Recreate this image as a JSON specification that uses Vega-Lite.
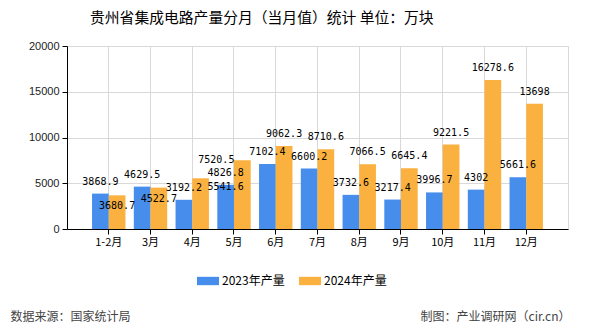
{
  "$schema": "https://vega.github.io/schema/vega-lite/v6.json",
  "width": 501,
  "height": 183,
  "autosize": {"type": "none"},
  "padding": {"left": 67, "top": 46, "right": 22, "bottom": 101},
  "background": "white",
  "title": {
    "text": "贵州省集成电路产量分月（当月值）统计 单位：万块",
    "anchor": "start",
    "frame": "group",
    "dx": 23,
    "offset": 14,
    "font": "Noto Sans CJK SC",
    "fontSize": 14.8,
    "fontWeight": "normal",
    "color": "#000000"
  },
  "config": {
    "view": {"stroke": "#d9d9d9"}
  },
  "data": {
    "values": [
      {"month": "1-2月", "series": "2023年产量", "value": 3868.9},
      {"month": "1-2月", "series": "2024年产量", "value": 3680.7},
      {"month": "3月", "series": "2023年产量", "value": 4629.5},
      {"month": "3月", "series": "2024年产量", "value": 4522.7},
      {"month": "4月", "series": "2023年产量", "value": 3192.2},
      {"month": "4月", "series": "2024年产量", "value": 5541.6},
      {"month": "5月", "series": "2023年产量", "value": 4826.8},
      {"month": "5月", "series": "2024年产量", "value": 7520.5},
      {"month": "6月", "series": "2023年产量", "value": 7102.4},
      {"month": "6月", "series": "2024年产量", "value": 9062.3},
      {"month": "7月", "series": "2023年产量", "value": 6600.2},
      {"month": "7月", "series": "2024年产量", "value": 8710.6},
      {"month": "8月", "series": "2023年产量", "value": 3732.6},
      {"month": "8月", "series": "2024年产量", "value": 7066.5},
      {"month": "9月", "series": "2023年产量", "value": 3217.4},
      {"month": "9月", "series": "2024年产量", "value": 6645.4},
      {"month": "10月", "series": "2023年产量", "value": 3996.7},
      {"month": "10月", "series": "2024年产量", "value": 9221.5},
      {"month": "11月", "series": "2023年产量", "value": 4302},
      {"month": "11月", "series": "2024年产量", "value": 16278.6},
      {"month": "12月", "series": "2023年产量", "value": 5661.6},
      {"month": "12月", "series": "2024年产量", "value": 13698}
    ]
  },
  "encoding": {
    "x": {
      "field": "month",
      "type": "nominal",
      "sort": null,
      "scale": {"paddingInner": 0.2, "paddingOuter": 0.6},
      "axis": {
        "title": "数据来源：国家统计局",
        "titleX": -57,
        "titleY": 87,
        "titleAlign": "left",
        "titleBaseline": "middle",
        "titleFont": "Noto Sans CJK SC",
        "titleFontSize": 12,
        "titleFontWeight": "normal",
        "titleColor": "#444444",
        "labelAngle": 0,
        "labelFont": "Noto Sans CJK SC",
        "labelFontSize": 11,
        "labelColor": "#000000",
        "labelPadding": 2,
        "tickSize": 5,
        "tickColor": "#000000",
        "domainColor": "#000000",
        "grid": true,
        "gridColor": "#d9d9d9",
        "bandPosition": 0.5
      }
    },
    "xOffset": {
      "field": "series",
      "type": "nominal",
      "scale": {"paddingInner": 0, "paddingOuter": 0}
    },
    "y": {
      "field": "value",
      "type": "quantitative",
      "scale": {"domain": [0, 20000]},
      "axis": {
        "values": [0, 5000, 10000, 15000, 20000],
        "format": "d",
        "title": "制图：产业调研网（cir.cn）",
        "titleAngle": 0,
        "titleX": 503,
        "titleY": 270,
        "titleAlign": "right",
        "titleBaseline": "middle",
        "titleFont": "Noto Sans CJK SC",
        "titleFontSize": 12,
        "titleFontWeight": "normal",
        "titleColor": "#444444",
        "labelFont": "Liberation Sans",
        "labelFontSize": 11,
        "labelColor": "#222222",
        "labelPadding": 3,
        "tickSize": 5,
        "tickColor": "#000000",
        "domainColor": "#000000",
        "gridColor": "#d9d9d9"
      }
    },
    "color": {
      "field": "series",
      "type": "nominal",
      "scale": {
        "domain": ["2023年产量", "2024年产量"],
        "range": ["#468dec", "#fbb13f"]
      },
      "legend": {
        "title": null,
        "orient": "none",
        "legendX": 130,
        "legendY": 224,
        "direction": "horizontal",
        "symbolType": "M-1,-0.38L1,-0.38L1,0.38L-1,0.38Z",
        "symbolSize": 484,
        "symbolStrokeWidth": 0,
        "symbolOpacity": 1,
        "labelFont": "Noto Sans CJK SC",
        "labelFontSize": 12,
        "labelColor": "#000000",
        "labelOffset": 3,
        "columnPadding": 14
      }
    }
  },
  "layer": [
    {"mark": {"type": "bar"}},
    {
      "transform": [
        {"filter": "!((datum.series === '2024年产量') && indexof(['1-2月','3月','4月','5月'], datum.month) >= 0)"}
      ],
      "mark": {"type": "text", "baseline": "middle", "dy": -12, "font": "DejaVu Sans Mono", "fontSize": 10, "color": "#000000"},
      "encoding": {
        "text": {"field": "value", "type": "nominal"},
        "color": {"value": "#000000"}
      }
    },
    {
      "transform": [
        {"filter": "datum.series === '2024年产量' && (datum.month === '1-2月' || datum.month === '3月')"}
      ],
      "mark": {"type": "text", "baseline": "middle", "dy": 11, "font": "DejaVu Sans Mono", "fontSize": 10, "color": "#000000"},
      "encoding": {
        "text": {"field": "value", "type": "nominal"},
        "color": {"value": "#000000"}
      }
    },
    {
      "transform": [
        {"filter": "datum.series === '2024年产量' && datum.month === '4月'"}
      ],
      "mark": {"type": "text", "baseline": "middle", "dx": 25, "dy": 9, "font": "DejaVu Sans Mono", "fontSize": 10, "color": "#000000"},
      "encoding": {
        "text": {"field": "value", "type": "nominal"},
        "color": {"value": "#000000"}
      }
    },
    {
      "transform": [
        {"filter": "datum.series === '2024年产量' && datum.month === '5月'"}
      ],
      "mark": {"type": "text", "baseline": "middle", "dx": -26, "dy": 0, "font": "DejaVu Sans Mono", "fontSize": 10, "color": "#000000"},
      "encoding": {
        "text": {"field": "value", "type": "nominal"},
        "color": {"value": "#000000"}
      }
    }
  ]
}
